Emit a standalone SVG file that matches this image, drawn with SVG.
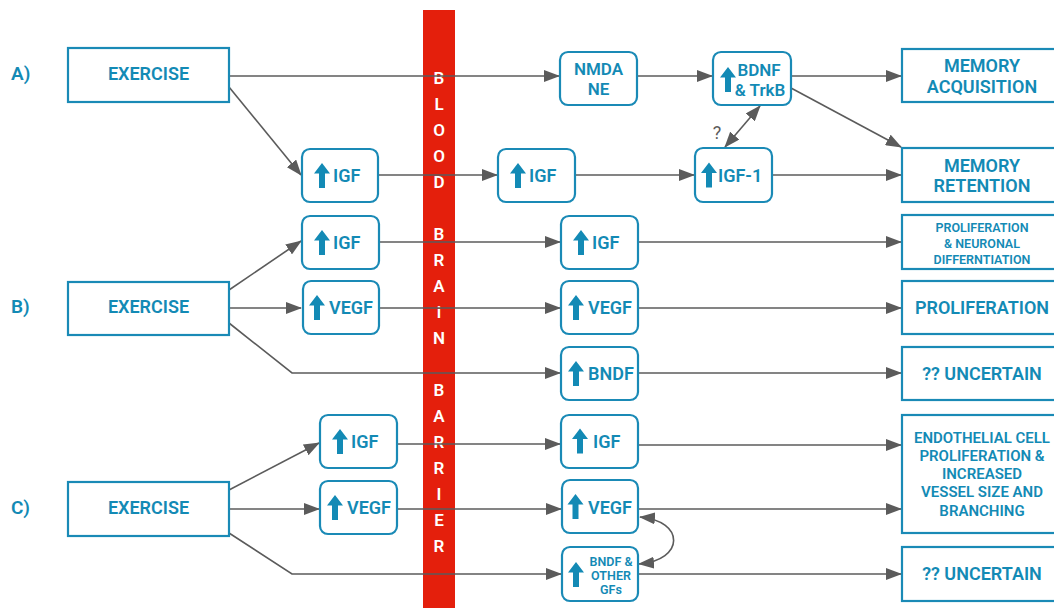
<svg xmlns="http://www.w3.org/2000/svg" width="1054" height="608" viewBox="0 0 1054 608">
<defs>
<style>
.box{fill:#fff;stroke:#1a8ab6;stroke-width:2.2}
.t{font-family:Roboto,"Liberation Sans",sans-serif;font-weight:600;fill:#138ab5;font-size:18px}
.s{font-size:17px}
.xs{font-size:12.5px}
.m{font-size:15px}
.g{font-size:12.5px}
.c{text-anchor:middle}
.lbl{font-family:Roboto,"Liberation Sans",sans-serif;font-weight:600;fill:#138ab5;font-size:19px}
.bar{font-family:Roboto,"Liberation Sans",sans-serif;font-weight:600;fill:#fff;font-size:17px;text-anchor:middle}
.ln{fill:none;stroke:#5b5b5b;stroke-width:1.6;marker-end:url(#ah)}
.dbl{marker-start:url(#ah)}
.up{fill:#138ab5}
.q{font-family:Roboto,"Liberation Sans",sans-serif;font-size:18px;fill:#5b5b5b;text-anchor:middle}
</style>
<marker id="ah" viewBox="0 0 16 12" refX="15" refY="6" markerWidth="16" markerHeight="12" markerUnits="userSpaceOnUse" orient="auto-start-reverse">
<path d="M0,0 L16,6 L0,12 z" fill="#5b5b5b"/>
</marker>
<path id="uparrow" d="M0,-12.5 L8,-2 L3,-2 L3,12.5 L-3,12.5 L-3,-2 L-8,-2 Z"/>
</defs>

<!-- blood brain barrier -->
<g id="bbb">
<rect x="423" y="10" width="32" height="598" fill="#e41f0c"/>
<text class="bar" x="439" y="84">B</text>
<text class="bar" x="439" y="110">L</text>
<text class="bar" x="439" y="136">O</text>
<text class="bar" x="439" y="162">O</text>
<text class="bar" x="439" y="188">D</text>
<text class="bar" x="439" y="240">B</text>
<text class="bar" x="439" y="266">R</text>
<text class="bar" x="439" y="292">A</text>
<text class="bar" x="439" y="318">i</text>
<text class="bar" x="439" y="344">N</text>
<text class="bar" x="439" y="396">B</text>
<text class="bar" x="439" y="422">A</text>
<text class="bar" x="439" y="448">R</text>
<text class="bar" x="439" y="474">R</text>
<text class="bar" x="439" y="500">I</text>
<text class="bar" x="439" y="526">E</text>
<text class="bar" x="439" y="552">R</text>
</g>

<!-- section labels -->
<g id="labels">
<text class="lbl" x="11" y="80">A)</text>
<text class="lbl" x="11" y="313">B)</text>
<text class="lbl" x="11" y="514">C)</text>
</g>

<!-- connectors -->
<g id="connectors">
<path class="ln" d="M229,76 H559"/>
<path class="ln" d="M637,76 H712"/>
<path class="ln" d="M791,76 H901"/>
<path class="ln" d="M791,88 L901,147"/>
<path class="ln" d="M229,87 L301,175"/>
<path class="ln" d="M378,175 H497"/>
<path class="ln" d="M575,175 H694"/>
<path class="ln" d="M772,175 H901"/>
<path class="ln dbl" d="M725,147 L760,106"/>
<text class="q" x="717" y="138.5">?</text>

<path class="ln" d="M229,290 L301,241"/>
<path class="ln" d="M229,308 H301"/>
<path class="ln" d="M229,323 L292,373 H560"/>
<path class="ln" d="M379,242 H560"/>
<path class="ln" d="M638,242 H901"/>
<path class="ln" d="M379,308 H560"/>
<path class="ln" d="M638,308 H901"/>
<path class="ln" d="M638,373 H901"/>

<path class="ln" d="M229,490 L319,443"/>
<path class="ln" d="M229,509 H319"/>
<path class="ln" d="M229,533 L292,574 H561"/>
<path class="ln" d="M397,444 H560"/>
<path class="ln" d="M637,445 H901"/>
<path class="ln" d="M397,509 H561"/>
<path class="ln" d="M638,509 H901"/>
<path class="ln" d="M638,574 H901"/>
<path class="ln dbl" d="M639,564 C685,560 685,521 640,517"/>
</g>

<!-- A -->
<g id="a-exercise"><rect class="box" x="68" y="48" width="161" height="54"/><text class="t c" x="148.5" y="80">EXERCISE</text></g>
<g id="a-igf1"><rect class="box" x="302" y="149" width="76" height="53" rx="8"/><use href="#uparrow" class="up" x="322" y="175.5"/><text class="t" x="333" y="182">IGF</text></g>
<g id="a-igf2"><rect class="box" x="498" y="149" width="77" height="53" rx="8"/><use href="#uparrow" class="up" x="518" y="175.5"/><text class="t" x="529" y="182">IGF</text></g>
<g id="a-nmda"><rect class="box" x="560" y="52" width="77" height="53" rx="8"/><text class="t s c" x="598.5" y="75">NMDA</text><text class="t s c" x="598.5" y="95">NE</text></g>
<g id="a-bdnf"><rect class="box" x="713" y="52" width="78" height="53" rx="8"/><use href="#uparrow" class="up" x="728" y="79.5"/><text class="t s c" x="759" y="76">BDNF</text><text class="t s c" x="760" y="96">&amp; TrkB</text></g>
<g id="a-igf-1"><rect class="box" x="695" y="148" width="77" height="54" rx="8"/><use href="#uparrow" class="up" x="709" y="175"/><text class="t" x="718" y="182">IGF-1</text></g>
<g id="a-acq"><rect class="box" x="902" y="49" width="160" height="53"/><text class="t c" x="982" y="72">MEMORY</text><text class="t c" x="982" y="93">ACQUISITION</text></g>
<g id="a-ret"><rect class="box" x="902" y="148" width="160" height="54"/><text class="t c" x="982" y="172">MEMORY</text><text class="t c" x="982" y="192">RETENTION</text></g>

<!-- B -->
<g id="b-exercise"><rect class="box" x="68" y="282" width="161" height="53"/><text class="t c" x="148.5" y="313">EXERCISE</text></g>
<g id="b-igf1"><rect class="box" x="302" y="216" width="77" height="53" rx="8"/><use href="#uparrow" class="up" x="322" y="242.5"/><text class="t" x="333" y="249">IGF</text></g>
<g id="b-vegf1"><rect class="box" x="303" y="281" width="76" height="53" rx="8"/><use href="#uparrow" class="up" x="317" y="307.5"/><text class="t" x="329" y="314">VEGF</text></g>
<g id="b-igf2"><rect class="box" x="561" y="216" width="77" height="53" rx="8"/><use href="#uparrow" class="up" x="581" y="242.5"/><text class="t" x="592" y="249">IGF</text></g>
<g id="b-vegf2"><rect class="box" x="561" y="281" width="77" height="53" rx="8"/><use href="#uparrow" class="up" x="576" y="307.5"/><text class="t" x="588" y="314">VEGF</text></g>
<g id="b-bndf"><rect class="box" x="561" y="347" width="77" height="53" rx="8"/><use href="#uparrow" class="up" x="576" y="373.5"/><text class="t" x="588" y="380">BNDF</text></g>
<g id="b-prolifneur"><rect class="box" x="902" y="215" width="160" height="54"/><text class="t xs c" x="982" y="231.5">PROLIFERATION</text><text class="t xs c" x="982" y="247.5">&amp; NEURONAL</text><text class="t xs c" x="982" y="263.5">DIFFERNTIATION</text></g>
<g id="b-prolif"><rect class="box" x="902" y="281" width="160" height="53"/><text class="t c" x="982" y="314">PROLIFERATION</text></g>
<g id="b-unc"><rect class="box" x="902" y="347" width="160" height="53"/><text class="t c" x="982" y="380">?? UNCERTAIN</text></g>

<!-- C -->
<g id="c-exercise"><rect class="box" x="68" y="482" width="161" height="54"/><text class="t c" x="148.5" y="514">EXERCISE</text></g>
<g id="c-igf1"><rect class="box" x="320" y="415" width="77" height="53" rx="8"/><use href="#uparrow" class="up" x="340" y="441.5"/><text class="t" x="351" y="448">IGF</text></g>
<g id="c-vegf1"><rect class="box" x="320" y="481" width="77" height="53" rx="8"/><use href="#uparrow" class="up" x="335" y="507.5"/><text class="t" x="347" y="514">VEGF</text></g>
<g id="c-igf2"><rect class="box" x="561" y="415" width="77" height="53" rx="8"/><use href="#uparrow" class="up" x="580" y="441"/><text class="t" x="593" y="448">IGF</text></g>
<g id="c-vegf2"><rect class="box" x="562" y="480" width="76" height="53" rx="8"/><use href="#uparrow" class="up" x="575.5" y="506.5"/><text class="t" x="588" y="513.5">VEGF</text></g>
<g id="c-bndf"><rect class="box" x="562" y="547" width="76" height="54" rx="8"/><use href="#uparrow" class="up" x="576" y="574.5"/><text class="t g c" x="611" y="565.5">BNDF &amp;</text><text class="t g c" x="611" y="579.5">OTHER</text><text class="t g c" x="611" y="593.5">GFs</text></g>
<g id="c-endo"><rect class="box" x="902" y="415" width="160" height="118"/><text class="t m c" x="982" y="442.5">ENDOTHELIAL CELL</text><text class="t m c" x="982" y="461">PROLIFERATION &amp;</text><text class="t m c" x="982" y="478.5">INCREASED</text><text class="t m c" x="982" y="497">VESSEL SIZE AND</text><text class="t m c" x="982" y="515.5">BRANCHING</text></g>
<g id="c-unc"><rect class="box" x="902" y="547" width="160" height="54"/><text class="t c" x="982" y="580">?? UNCERTAIN</text></g>
</svg>
